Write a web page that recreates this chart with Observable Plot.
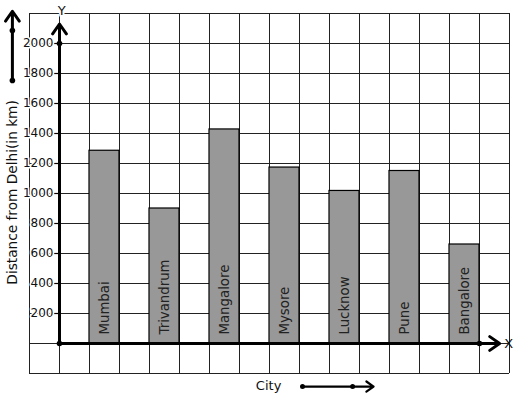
<!DOCTYPE html>
<html>
<head>
<meta charset="utf-8">
<script src="https://cdn.jsdelivr.net/npm/d3@7"></script>
<script src="https://cdn.jsdelivr.net/npm/@observablehq/plot@0.6"></script>
<style>
  body { margin: 0; background: #fff; }
  #chart svg { display: block; }
</style>
</head>
<body>
<div id="chart"></div>
<script>
const cities = ["Mumbai", "Trivandrum", "Mangalore", "Mysore", "Lucknow", "Pune", "Bangalore"];
const distances = [1285, 900, 1427, 1173, 1017, 1150, 660];
const yTicks = [200, 400, 600, 800, 1000, 1200, 1400, 1600, 1800, 2000];
const gridRows = d3.range(-200, 2201, 200);
const gridCols = d3.range(-1, 16, 1);
const yTitle = "Distance from Delhi(in km)";
const xTitle = "City";

const bars = cities.map((c, i) => ({city: c, value: distances[i], i}));
const F = "DejaVu Sans, sans-serif";

const chart = Plot.plot({
  width: 517,
  height: 399,
  marginLeft: 29,
  marginRight: 8,
  marginTop: 13,
  marginBottom: 26,
  style: {fontFamily: F, background: "#fff", overflow: "visible"},
  x: {domain: [-1, 15], axis: null},
  y: {domain: [-200, 2200], axis: null},
  marks: [
    // grid
    Plot.ruleY(gridRows, {x1: -1, x2: 15, stroke: "#222", strokeWidth: 1}),
    Plot.ruleX(gridCols, {y1: -200, y2: 2200, stroke: "#222", strokeWidth: 1}),
    // bars
    Plot.rectY(bars, {x1: d => 2 * d.i + 1, x2: d => 2 * d.i + 2, y1: 0, y2: "value",
      fill: "#989898", stroke: "#000", strokeWidth: 1.2}),
    Plot.text(bars, {x: d => 2 * d.i + 1.5, y: 0, text: "city", rotate: -90,
      textAnchor: "start", lineAnchor: "middle", dy: -9, fontSize: 13.3, fill: "#222"}),
    // y tick labels and ticks
    Plot.ruleY(yTicks, {x1: -0.2, x2: 0, stroke: "#000", strokeWidth: 1.2}),
    Plot.text(yTicks, {x: -0.2, y: d => d, text: d => String(d), textAnchor: "end",
      fontSize: 12, fill: "#111", stroke: "white", strokeWidth: 3, dx: 0}),
    // axes
    Plot.arrow([0], {x1: 0, y1: 0, x2: 0, y2: 2130, stroke: "#000", strokeWidth: 3,
      headLength: 6, headAngle: 70}),
    Plot.arrow([0], {x1: 0, y1: 0, x2: 14.67, y2: 0, stroke: "#000", strokeWidth: 3,
      headLength: 6, headAngle: 70}),
    Plot.dot([[0, 0], [0, 2000], [14, 0]], {x: d => d[0], y: d => d[1], r: 2.8, fill: "#000"}),
    Plot.text(["Y"], {x: 0.07, y: 2220, text: d => d, fontSize: 13, fill: "#111",
      stroke: "white", strokeWidth: 4}),
    Plot.text(["X"], {x: 14.97, y: 0, text: d => d, fontSize: 13, fill: "#111"}),
    // decorative y arrow top-left
    Plot.arrow([0], {x1: -1.57, y1: 1753, x2: -1.57, y2: 2215, stroke: "#000", strokeWidth: 3,
      headLength: 6, headAngle: 70}),
    Plot.dot([1753, 2087], {x: -1.57, y: d => d, r: 2.8, fill: "#000"}),
    // y title
    Plot.text([yTitle], {x: -1.57, y: 1007, text: d => d, rotate: -90, fontSize: 13.7, fill: "#111"}),
    // x title and decorative arrow
    Plot.text([xTitle], {x: 6.97, y: -280, text: d => d, fontSize: 13, fill: "#111"}),
    Plot.arrow([0], {x1: 8.1, y1: -287, x2: 10.47, y2: -287, stroke: "#000", strokeWidth: 2.2,
      headLength: 6, headAngle: 70}),
    Plot.dot([8.1, 9.77], {x: d => d, y: -287, r: 2.5, fill: "#000"})
  ]
});
document.getElementById("chart").appendChild(chart);
</script>
</body>
</html>
